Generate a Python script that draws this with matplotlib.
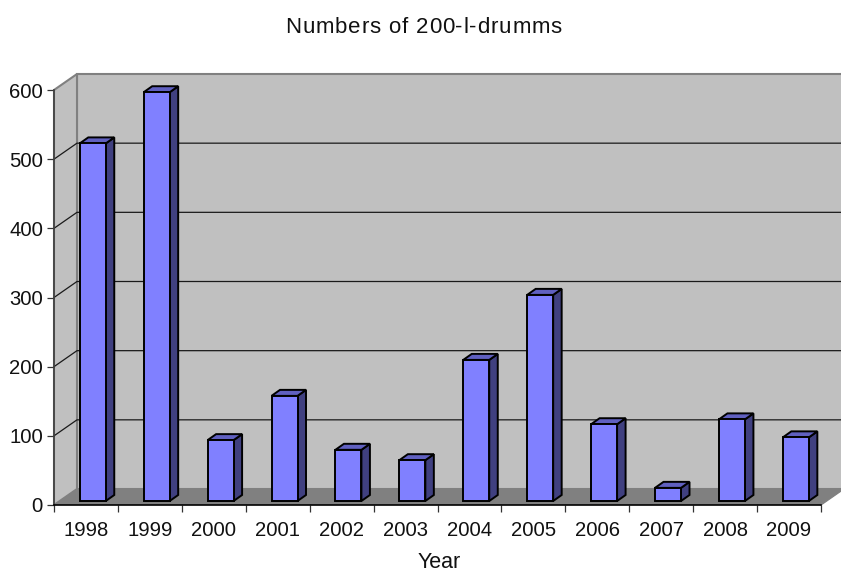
import matplotlib
matplotlib.use("Agg")
import matplotlib.pyplot as plt
from matplotlib.patches import Polygon
from matplotlib.font_manager import FontProperties

plt.rcParams['font.family'] = ['Liberation Sans', 'DejaVu Sans']

title = 'Numbers of 200-l-drumms'
years = ['1998', '1999', '2000', '2001', '2002', '2003',
         '2004', '2005', '2006', '2007', '2008', '2009']
drums = [517, 591, 88, 152, 74, 59, 204, 298, 111, 19, 118, 92]
y_ticks = [0, 100, 200, 300, 400, 500, 600]

W, H = 841, 573
LEFT, RIGHT, BOTTOM, TOP = 54, 821, 505, 90

fig = plt.figure(figsize=(W / 100, H / 100), dpi=100)
ax = fig.add_axes([LEFT / W, 1 - BOTTOM / H, (RIGHT - LEFT) / W, (BOTTOM - TOP) / H])
ax.set_xlim(0, len(years))
ax.set_ylim(0, 600)
ax.patch.set_visible(False)

# pixel sizes expressed in data units
ux = len(years) / (RIGHT - LEFT)
uy = 600 / (BOTTOM - TOP)
wall_dx, wall_dy = 23 * ux, 16 * uy
bar_lift_x, bar_lift_y = 8.0 * ux, 4.0 * uy
bar_w = 26 * ux
side_dx, side_dy = 8.5 * ux, 6.0 * uy
xmax = len(years)


def poly(pts, face, edge='none', lw=0.0, z=1, join='miter'):
    ax.add_patch(Polygon(pts, closed=True, facecolor=face, edgecolor=edge,
                         linewidth=lw, zorder=z, clip_on=False, joinstyle=join))


# walls and floor
poly([(wall_dx, wall_dy), (wall_dx, 600 + wall_dy), (xmax + wall_dx, 600 + wall_dy),
      (xmax + wall_dx, wall_dy)], '#c0c0c0', '#808080', 1.5, z=1)
poly([(0, 0), (0, 600), (wall_dx, 600 + wall_dy), (wall_dx, wall_dy)],
     '#c0c0c0', '#808080', 1.5, z=1)
poly([(0, 0), (wall_dx, wall_dy), (xmax + wall_dx, wall_dy), (xmax, 0)],
     '#808080', 'none', 0, z=2)

# gridlines wrap from the left wall onto the back wall
for v in y_ticks[1:-1]:
    ax.plot([0, wall_dx, xmax + wall_dx], [v, v + wall_dy, v + wall_dy],
            color='#1a1a1a', lw=0.9, zorder=3, clip_on=False)
ax.plot([xmax, xmax + wall_dx], [0, wall_dy], color='#808080', lw=0.9, zorder=3, clip_on=False)

# columns
for i, val in enumerate(drums):
    x0 = i + 0.5 - bar_w / 2 + bar_lift_x * 0.85
    x1 = x0 + bar_w
    y0 = bar_lift_y
    y1 = val + bar_lift_y
    poly([(x1, y0), (x1 + side_dx, y0 + side_dy), (x1 + side_dx, y1 + side_dy), (x1, y1)],
         '#404080', 'black', 1.4, z=5)
    poly([(x0, y1), (x1, y1), (x1 + side_dx, y1 + side_dy), (x0 + side_dx, y1 + side_dy)],
         '#6060c0', 'black', 1.4, z=5)
    poly([(x0, y0), (x1, y0), (x1, y1), (x0, y1)], '#8080ff', 'black', 1.4, z=6)

for name in ('top', 'right'):
    ax.spines[name].set_visible(False)
ax.spines['left'].set_color('#404040')
ax.spines['left'].set_linewidth(1.2)
ax.spines['bottom'].set_color('black')
ax.spines['bottom'].set_linewidth(1.2)
for s in ax.spines.values():
    s.set_zorder(4)

ax.set_yticks(y_ticks)
ax.set_xticks(range(len(years) + 1))
ax.set_xticklabels([])
ax.set_xticks([i + 0.5 for i in range(len(years))], minor=True)
ax.set_xticklabels(years, minor=True, fontsize=14.6, color='#111111')
ax.tick_params(axis='x', which='minor', length=0, pad=11.5)
ax.tick_params(axis='x', which='major', length=5, width=0.9, color='#333333')
ax.tick_params(axis='y', length=5, width=0.9, labelsize=14.6, pad=3, color='#333333',
               labelcolor='#111111')


def spaced_text(s, x_center, y_baseline, size, gap):
    """Place a string one glyph at a time with extra tracking (pixels)."""
    prop = FontProperties(family='Liberation Sans', size=size)
    renderer = fig.canvas.get_renderer()

    def advance(prefix):
        w_full = renderer.get_text_width_height_descent(prefix + 'x', prop, False)[0]
        w_x = renderer.get_text_width_height_descent('x', prop, False)[0]
        return w_full - w_x

    total = advance(s) + gap * (len(s) - 1)
    start = x_center - total / 2
    for k, ch in enumerate(s):
        if ch == ' ':
            continue
        px = start + advance(s[:k]) + gap * k
        fig.text(px / W, 1 - y_baseline / H, ch, fontproperties=prop, ha='left',
                 va='baseline', color='#111111')


spaced_text(title, 423.5, 33, 16, 0.85)
fig.text(439 / W, 1 - 562.5 / H, 'Year', ha='center', va='center', fontsize=15.5, color='#111111')

fig.savefig('out.png', dpi=100)
